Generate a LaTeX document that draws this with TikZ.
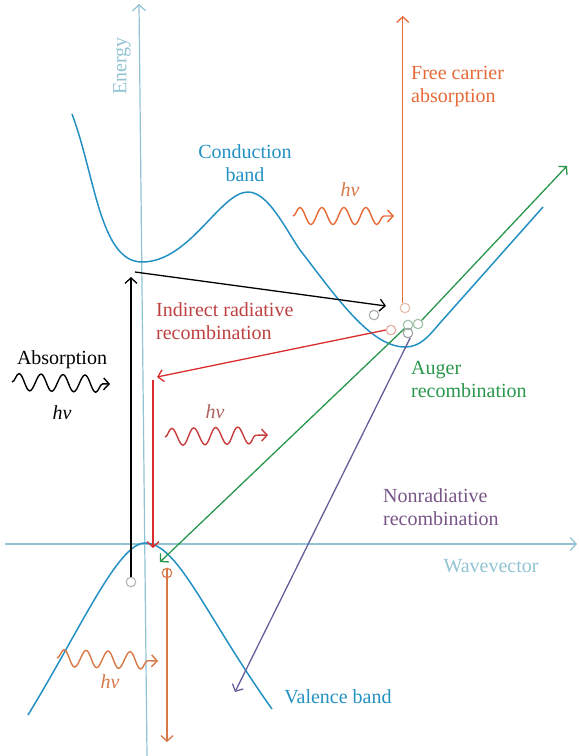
\documentclass[tikz,border=0pt]{standalone}
\usepackage{fontspec}
\setmainfont{Liberation Serif}
\usetikzlibrary{arrows.meta,decorations.pathmorphing}
\definecolor{axiscol}{RGB}{145,195,210}
\definecolor{bandcol}{RGB}{35,145,195}
\definecolor{orangec}{RGB}{230,105,55}
\definecolor{orangec2}{RGB}{215,120,70}
\definecolor{redc}{RGB}{220,45,45}
\definecolor{redtext}{RGB}{190,65,65}
\definecolor{redwave}{RGB}{200,60,60}
\definecolor{redhv}{RGB}{175,95,95}
\definecolor{greenc}{RGB}{40,150,75}
\definecolor{purplec}{RGB}{100,95,155}
\definecolor{purptext}{RGB}{120,85,135}
\definecolor{grayc}{RGB}{180,180,180}
\definecolor{graygreen}{RGB}{165,175,165}
\definecolor{paleor}{RGB}{232,188,168}
\definecolor{palered}{RGB}{228,172,162}
\definecolor{palegreen}{RGB}{160,192,165}
\begin{document}
\begin{tikzpicture}[x=1pt,y=-1pt,
  axis/.style={draw=axiscol, line width=1.2pt, -{Straight Barb[length=6pt,width=13pt]}},
  band/.style={draw=bandcol, line width=1.5pt},
  arr/.style={line width=1.3pt, -{Straight Barb[length=5.5pt,width=12pt]}},
  dot/.style={circle, line width=1.1pt, minimum size=9.5pt, inner sep=0pt},
  wave/.style={line width=1.4pt, decorate, decoration={snake, amplitude=8.5pt, segment length=22pt, post length=7pt}, -{Straight Barb[length=5.5pt,width=12pt]}},
  lbl/.style={font=\fontsize{20}{23}\selectfont, inner sep=0pt, align=left},
  hv/.style={font=\fontsize{20}{23}\selectfont\itshape, inner sep=0pt}]
\useasboundingbox (0,0) rectangle (579,756);
% axes
\coordinate (ebot) at (147,756);
\coordinate (etop) at (139,4);
\draw[axis] (ebot) -- (etop);
\coordinate (wl) at (5,544);
\coordinate (wr) at (577,544);
\draw[axis] (wl) -- (wr);
\node[lbl, rotate=90, text=axiscol] (en) at (122,66) {Energy};
\node[lbl, text=axiscol] (wv) at (491,566) {Wavevector};
% bands
\draw[band] (72,114) .. controls (95,175) and (100,262) .. (142,262)
  .. controls (190,262) and (220,192) .. (248,192)
  .. controls (268,192) and (285,228) .. (300,250)
  .. controls (335,295) and (370,347) .. (405,347)
  .. controls (420,347) and (428,337) .. (440,323) -- (543,207);
\draw[band] (28,715) .. controls (80,630) and (118,543) .. (145,543)
  .. controls (178,543) and (205,615) .. (272,709);
\node[lbl, align=center, text=bandcol] (cb) at (245,163) {Conduction\\band};
\node[lbl, text=bandcol] (vb) at (338,697) {Valence band};
% absorption
\node[dot, draw=grayc] (cab) at (131,582) {};
\coordinate (abstop) at (131,277);
\draw[arr, black] (cab.north) -- (abstop);
\node[lbl] (abs) at (62,360) {Absorption};
\coordinate (w1a) at (12,382);
\coordinate (w1b) at (110,384);
\draw[wave, black] (w1a) -- (w1b);
\node[hv] (hv1) at (62,413) {hν};
% indirect black
\coordinate (indst) at (135,272);
\coordinate (indend) at (386,306);
\draw[arr, black] (indst) -- (indend);
\node[dot, draw=graygreen] (cin) at (374,315) {};
% free carrier absorption
\node[dot, draw=paleor] (cfc) at (405,308) {};
\coordinate (fctop) at (401,16);
\draw[arr, orangec] (cfc.115) -- (cfc.115 |- fctop);
\node[lbl, text=orangec, anchor=west] (fca) at (411,87) {Free carrier\\absorption};
\coordinate (w2a) at (293,216);
\coordinate (w2b) at (394,216);
\draw[wave, orangec] (w2a) -- (w2b);
\node[hv, text=orangec2] (hv2) at (350,190) {hν};
% indirect radiative (red)
\node[dot, draw=palered] (crd) at (391,330) {};
\coordinate (redtip) at (157,377);
\draw[arr, redc] (crd.west) -- (redtip);
\coordinate (rvtop) at (153,380);
\coordinate (rvbot) at (153,548);
\draw[arr, redc] (rvtop) -- (rvbot);
\node[lbl, text=redtext, anchor=west] (ira) at (156,321) {Indirect radiative\\recombination};
\coordinate (w3a) at (165,437);
\coordinate (w3b) at (268,435);
\draw[wave, redwave] (w3a) -- (w3b);
\node[hv, text=redhv] (hv3) at (215,412) {hν};
% Auger (green)
\node[dot, draw=palegreen] (cg1) at (408,325) {};
\node[dot, draw=palegreen] (cg2) at (418,324) {};
\coordinate (gbot) at (160,562);
\coordinate (gtop) at (567,166);
\draw[arr, greenc] (cg1.225) -- (gbot);
\draw[arr, greenc] (cg2.45) -- (gtop);
\node[lbl, text=greenc, anchor=west] (aug) at (411,379) {Auger\\recombination};
% nonradiative (purple)
\node[dot, draw=grayc!90!black] (cpu) at (408,333) {};
\coordinate (purtip) at (235,692);
\draw[arr, purplec] (cpu.-65) -- (purtip);
\node[lbl, text=purptext, anchor=west] (nra) at (383,507) {Nonradiative\\recombination};
% bottom orange
\node[dot, draw=orangec2] (cob) at (167,573) {};
\coordinate (obot) at (167,742);
\draw[arr, orangec2] (cob.north) -- (obot);
\coordinate (w4a) at (57,658);
\coordinate (w4b) at (158,661);
\draw[wave, orangec2] (w4a) -- (w4b);
\node[hv, text=orangec2] (hv4) at (110,682) {hν};
\end{tikzpicture}
\end{document}
